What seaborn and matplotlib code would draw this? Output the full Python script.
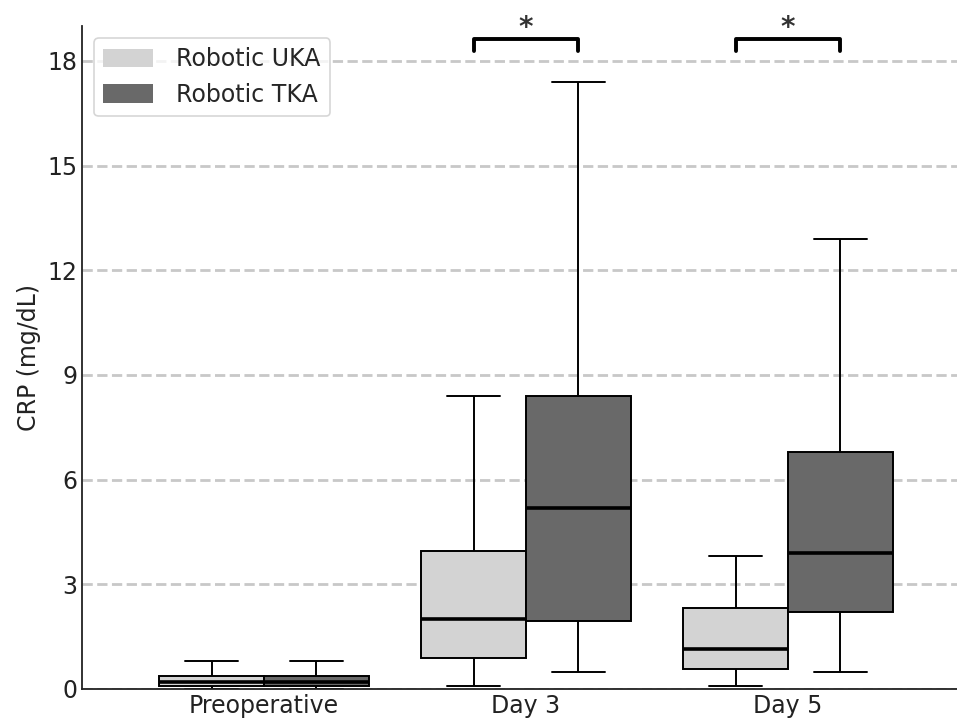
import numpy as np
import pandas as pd
import matplotlib
matplotlib.use("Agg")
import matplotlib.pyplot as plt
import seaborn as sns

# Five-number summaries (min, Q1, median, Q3, max), mg/dL
timepoints = ['Preoperative', 'Day 3', 'Day 5']
groups = ['Robotic UKA', 'Robotic TKA']

uka_preop = [0.0, 0.10, 0.20, 0.38, 0.80]
tka_preop = [0.0, 0.10, 0.20, 0.38, 0.80]
uka_day3 = [0.10, 0.90, 2.00, 3.95, 8.40]
tka_day3 = [0.50, 1.95, 5.20, 8.40, 17.40]
uka_day5 = [0.10, 0.57, 1.15, 2.33, 3.80]
tka_day5 = [0.50, 2.20, 3.90, 6.80, 12.90]

significant = ['Day 3', 'Day 5']
y_ticks = [0, 3, 6, 9, 12, 15, 18]

colors = {'Robotic UKA': '#d3d3d3', 'Robotic TKA': '#696969'}

summaries = {
    ('Preoperative', 'Robotic UKA'): uka_preop,
    ('Preoperative', 'Robotic TKA'): tka_preop,
    ('Day 3', 'Robotic UKA'): uka_day3,
    ('Day 3', 'Robotic TKA'): tka_day3,
    ('Day 5', 'Robotic UKA'): uka_day5,
    ('Day 5', 'Robotic TKA'): tka_day5,
}

# with 5 points the quartiles land exactly on the 2nd/3rd/4th values
rows = []
for (tp, grp), vals in summaries.items():
    for v in vals:
        rows.append({'timepoint': tp, 'group': grp, 'crp': v})
df = pd.DataFrame(rows)

sns.set_style("white")
plt.rcParams['font.family'] = ['DejaVu Sans']

fig = plt.figure(figsize=(9.57, 7.18), dpi=100)
ax = fig.add_axes([0.0857, 0.0404, 0.9143, 0.9234])

ax.yaxis.grid(True, linestyle='--', color='#c8c8c8', linewidth=2, zorder=0)
ax.set_axisbelow(True)

sns.boxplot(data=df, x='timepoint', y='crp', hue='group', order=timepoints,
            hue_order=groups, palette=colors, width=0.8, gap=0,
            whis=(0, 100), showfliers=False, linecolor='black', linewidth=1.4,
            medianprops={'color': 'black', 'linewidth': 2.6},
            ax=ax)

ax.set_ylim(0, 19)
ax.set_xlim(-0.695, 2.645)
ax.set_yticks(y_ticks)
ax.set_xlabel('')
ax.set_ylabel('CRP (mg/dL)', fontsize=17, color='#222222')
ax.tick_params(axis='both', labelsize=17, direction='in', length=5, width=1.2,
               labelcolor='#222222')

for side in ['top', 'right']:
    ax.spines[side].set_visible(False)
for side in ['left', 'bottom']:
    ax.spines[side].set_linewidth(1.3)
    ax.spines[side].set_color('#222222')

# significance brackets
for tp in significant:
    i = timepoints.index(tp)
    x1, x2 = i - 0.2, i + 0.2
    y_top, y_leg = 18.62, 18.28
    ax.plot([x1, x1, x2, x2], [y_leg, y_top, y_top, y_leg], color='black',
            linewidth=2.8, clip_on=False, zorder=5)
    ax.text(i, 18.72, '*', ha='center', va='baseline', fontsize=20,
            fontweight='bold', color='#333333', clip_on=False)

handles, labels = ax.get_legend_handles_labels()
leg = ax.legend(handles, labels, loc='upper left', fontsize=17, frameon=True,
                fancybox=True, handlelength=2.1, handleheight=0.85,
                handletextpad=1.0, borderaxespad=0.5)
leg.get_frame().set_edgecolor('#cccccc')
leg.get_frame().set_linewidth(1.2)
for p in leg.get_patches():
    p.set_edgecolor('none')

plt.savefig('out.png', dpi=100)
